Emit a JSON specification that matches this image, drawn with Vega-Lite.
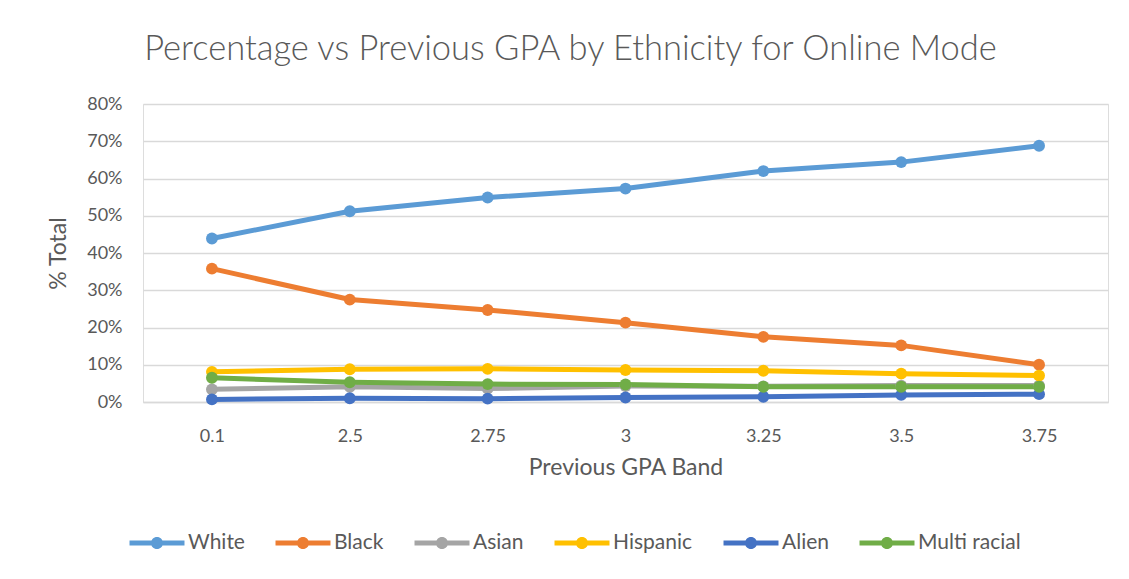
{
  "$schema": "https://vega.github.io/schema/vega-lite/v6.json",
  "width": 965,
  "height": 298,
  "autosize": {"type": "none"},
  "padding": {"left": 143, "top": 104, "right": 21, "bottom": 177},
  "background": "white",
  "title": {
    "text": "Percentage vs Previous GPA by Ethnicity for Online Mode",
    "font": "Lato",
    "fontSize": 34.5,
    "fontWeight": 300,
    "color": "#595959",
    "anchor": "middle",
    "dx": -55,
    "offset": 28
  },
  "data": {
    "values": [
      {"band": "0.1", "group": "White", "pct": 0.439},
      {"band": "2.5", "group": "White", "pct": 0.512},
      {"band": "2.75", "group": "White", "pct": 0.549},
      {"band": "3", "group": "White", "pct": 0.573},
      {"band": "3.25", "group": "White", "pct": 0.620},
      {"band": "3.5", "group": "White", "pct": 0.644},
      {"band": "3.75", "group": "White", "pct": 0.688},
      {"band": "0.1", "group": "Black", "pct": 0.358},
      {"band": "2.5", "group": "Black", "pct": 0.275},
      {"band": "2.75", "group": "Black", "pct": 0.247},
      {"band": "3", "group": "Black", "pct": 0.213},
      {"band": "3.25", "group": "Black", "pct": 0.175},
      {"band": "3.5", "group": "Black", "pct": 0.152},
      {"band": "3.75", "group": "Black", "pct": 0.100},
      {"band": "0.1", "group": "Asian", "pct": 0.034},
      {"band": "2.5", "group": "Asian", "pct": 0.041},
      {"band": "2.75", "group": "Asian", "pct": 0.036},
      {"band": "3", "group": "Asian", "pct": 0.043},
      {"band": "3.25", "group": "Asian", "pct": 0.042},
      {"band": "3.5", "group": "Asian", "pct": 0.044},
      {"band": "3.75", "group": "Asian", "pct": 0.044},
      {"band": "0.1", "group": "Hispanic", "pct": 0.081},
      {"band": "2.5", "group": "Hispanic", "pct": 0.088},
      {"band": "2.75", "group": "Hispanic", "pct": 0.089},
      {"band": "3", "group": "Hispanic", "pct": 0.086},
      {"band": "3.25", "group": "Hispanic", "pct": 0.084},
      {"band": "3.5", "group": "Hispanic", "pct": 0.076},
      {"band": "3.75", "group": "Hispanic", "pct": 0.071},
      {"band": "0.1", "group": "Alien", "pct": 0.007},
      {"band": "2.5", "group": "Alien", "pct": 0.010},
      {"band": "2.75", "group": "Alien", "pct": 0.009},
      {"band": "3", "group": "Alien", "pct": 0.012},
      {"band": "3.25", "group": "Alien", "pct": 0.014},
      {"band": "3.5", "group": "Alien", "pct": 0.019},
      {"band": "3.75", "group": "Alien", "pct": 0.021},
      {"band": "0.1", "group": "Multi racial", "pct": 0.065},
      {"band": "2.5", "group": "Multi racial", "pct": 0.053},
      {"band": "2.75", "group": "Multi racial", "pct": 0.048},
      {"band": "3", "group": "Multi racial", "pct": 0.047},
      {"band": "3.25", "group": "Multi racial", "pct": 0.041},
      {"band": "3.5", "group": "Multi racial", "pct": 0.041},
      {"band": "3.75", "group": "Multi racial", "pct": 0.041}
    ]
  },
  "encoding": {
    "x": {
      "field": "band",
      "type": "ordinal",
      "sort": null,
      "scale": {"type": "point", "padding": 0.5},
      "title": "Previous GPA Band",
      "axis": {
        "labelAngle": 0,
        "labelFont": "Lato",
        "labelFontSize": 18,
        "labelColor": "#595959",
        "labelPadding": 25,
        "ticks": false,
        "domainColor": "#D9D9D9",
        "domainWidth": 1.5,
        "titleFont": "Lato",
        "titleFontSize": 23,
        "titleFontWeight": "normal",
        "titleColor": "#595959",
        "titlePadding": 11
      }
    },
    "y": {
      "field": "pct",
      "type": "quantitative",
      "scale": {"domain": [0, 0.8], "nice": false},
      "title": "% Total",
      "axis": {
        "format": ".0%",
        "values": [0, 0.1, 0.2, 0.3, 0.4, 0.5, 0.6, 0.7, 0.8],
        "labelOverlap": false,
        "labelFont": "Lato",
        "labelFontSize": 18,
        "labelColor": "#595959",
        "labelPadding": 21,
        "ticks": false,
        "domain": false,
        "gridColor": "#D9D9D9",
        "gridWidth": 1.5,
        "titleFont": "Lato",
        "titleFontSize": 23,
        "titleFontWeight": "normal",
        "titleColor": "#595959",
        "titlePadding": 16
      }
    },
    "color": {
      "field": "group",
      "type": "nominal",
      "sort": ["White", "Black", "Asian", "Hispanic", "Alien", "Multi racial"],
      "scale": {
        "domain": ["White", "Black", "Asian", "Hispanic", "Alien", "Multi racial"],
        "range": ["#5B9BD5", "#ED7D31", "#A5A5A5", "#FFC000", "#4472C4", "#70AD47"]
      },
      "legend": {
        "title": null,
        "orient": "bottom",
        "direction": "horizontal",
        "columns": 6,
        "offset": 50,
        "symbolType": "M-2,-0.18L2,-0.18L2,0.18L-2,0.18Z M-0.44,0A0.44,0.44 0 1,1 0.44,0A0.44,0.44 0 1,1 -0.44,0Z",
        "symbolSize": 756,
        "symbolStrokeWidth": 0,
        "labelFont": "Lato",
        "labelFontSize": 21,
        "labelColor": "#595959",
        "labelOffset": 17,
        "columnPadding": 30
      }
    }
  },
  "layer": [
    {
      "mark": {"type": "line", "strokeWidth": 5, "strokeCap": "round", "strokeJoin": "round"}
    },
    {
      "mark": {"type": "point", "filled": true, "size": 140, "opacity": 1}
    }
  ]
}
